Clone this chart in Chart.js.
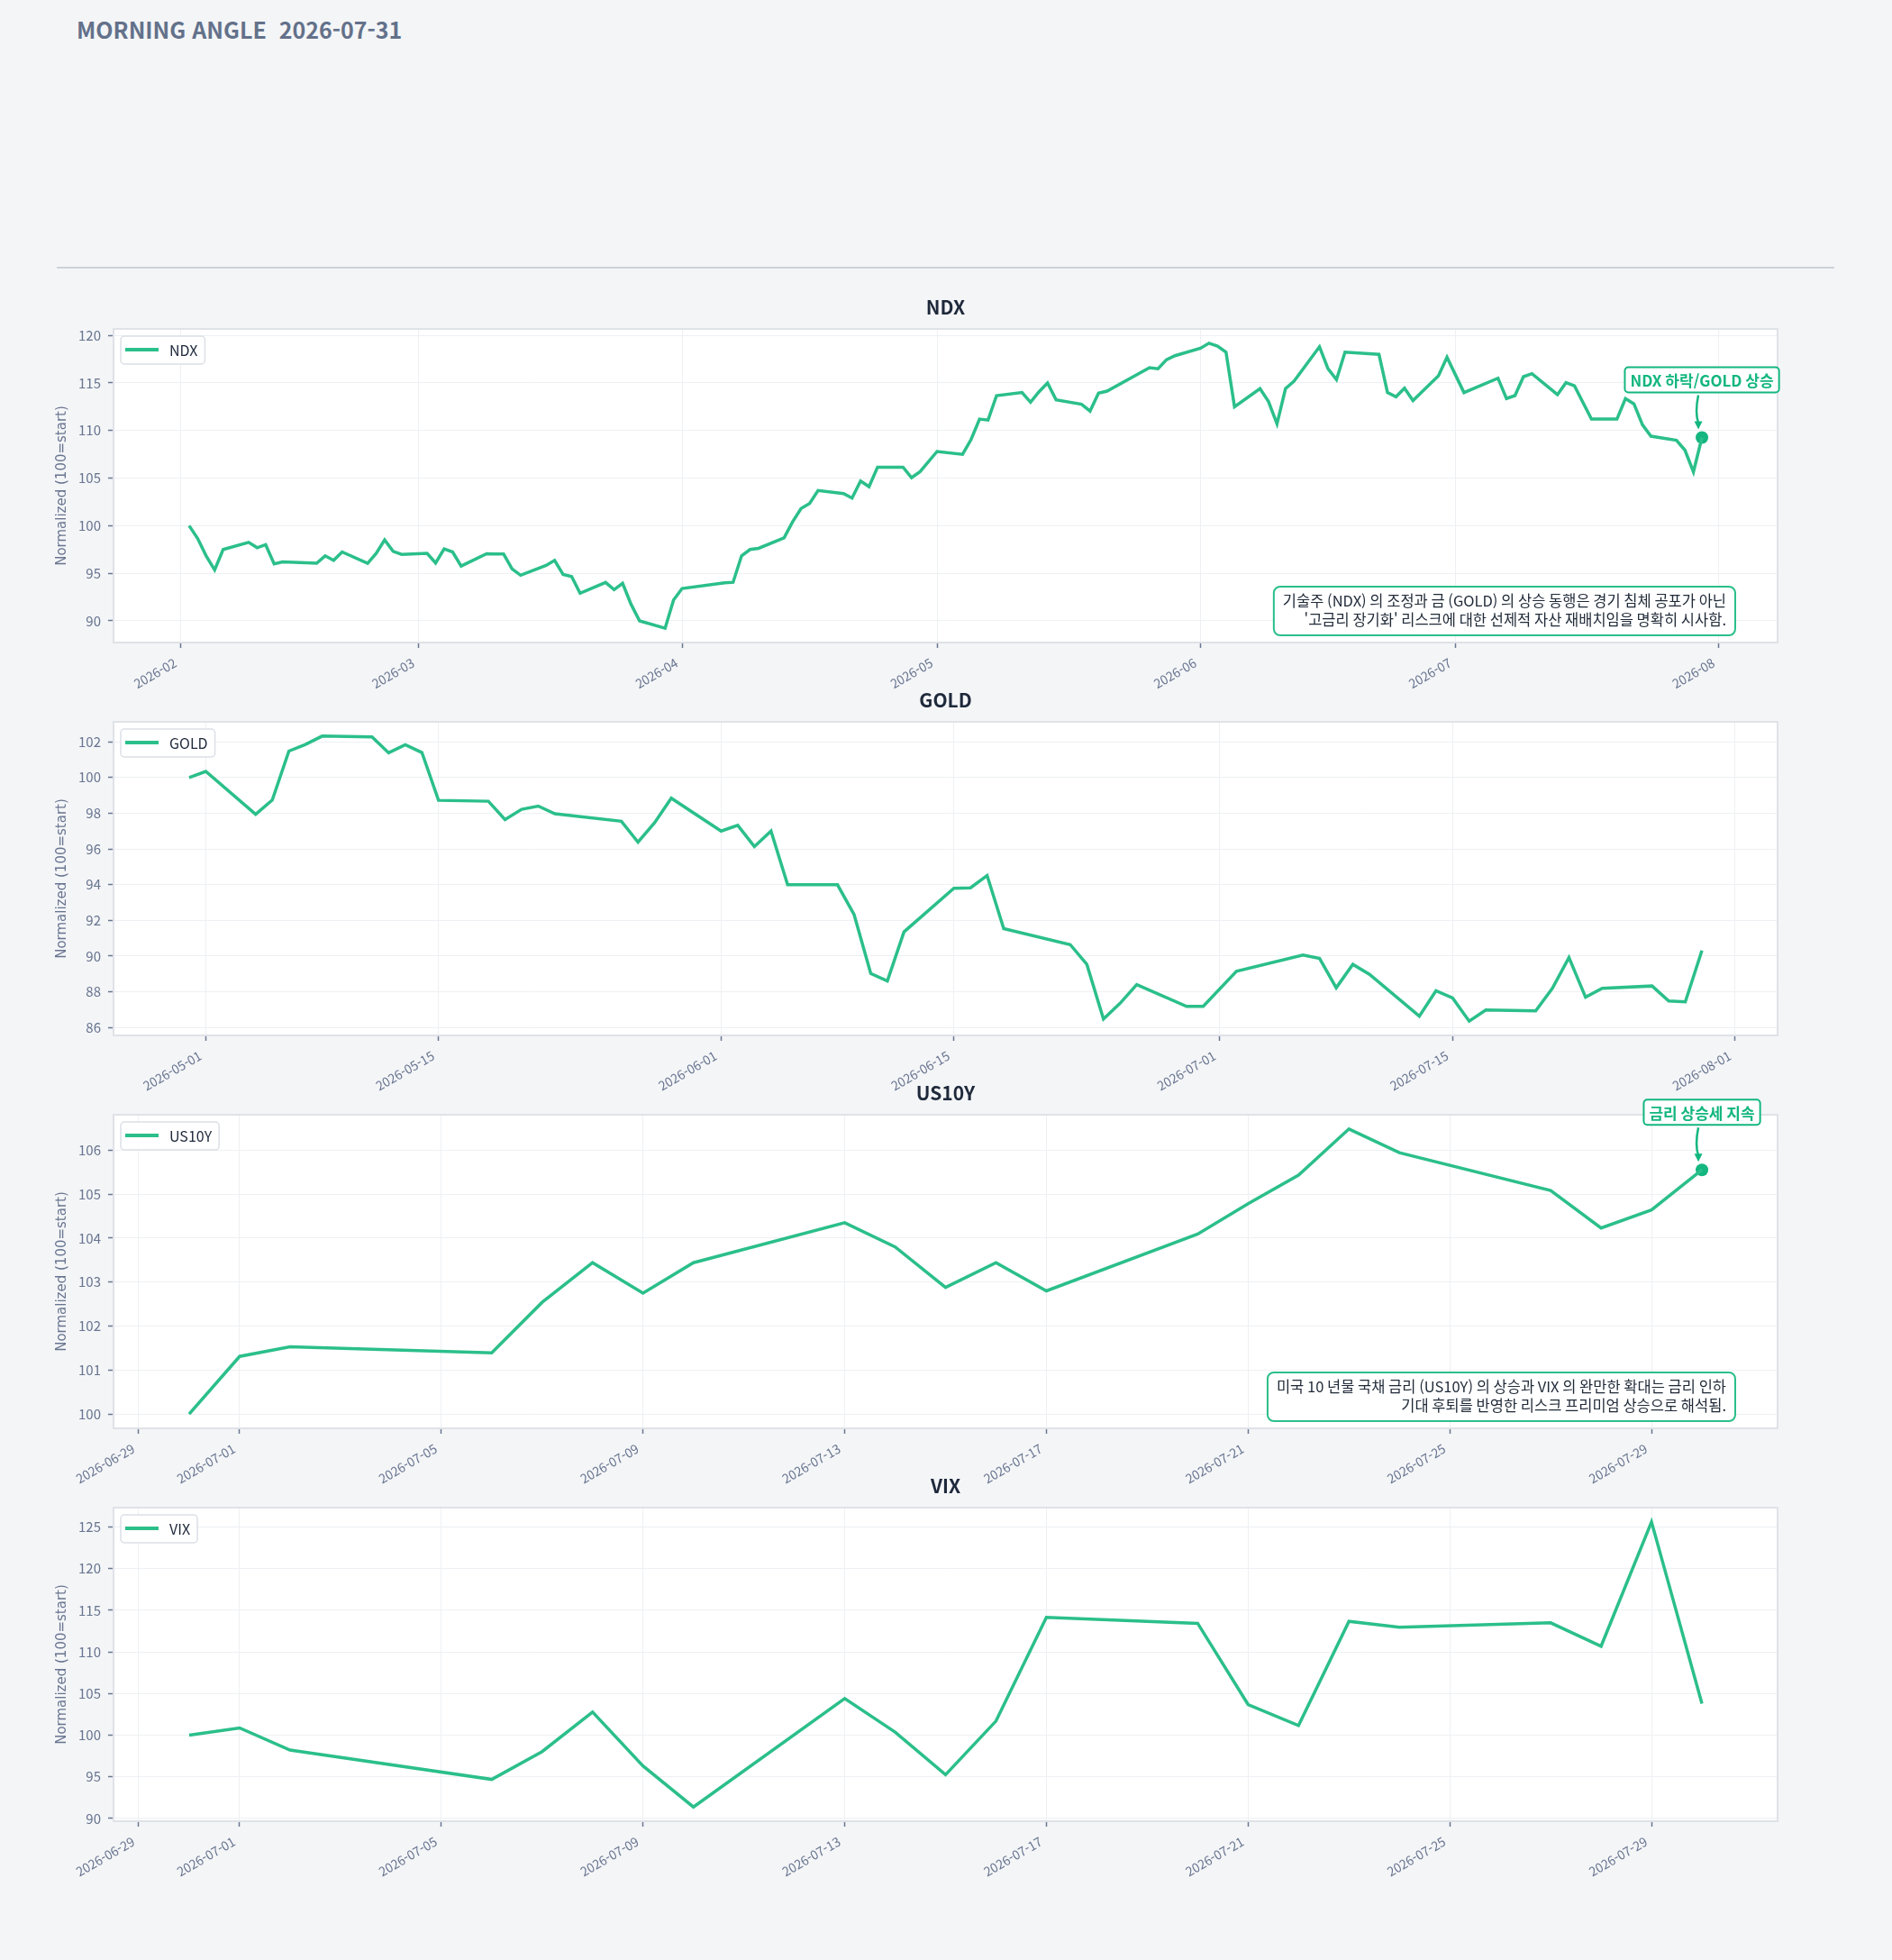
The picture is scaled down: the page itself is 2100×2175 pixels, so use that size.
<!DOCTYPE html>
<html lang="ko">
<head>
<meta charset="UTF-8">
<title>Morning Angle</title>
<script src="https://cdn.jsdelivr.net/npm/chart.js"></script>
<style>
    body {
        margin: 0;
        background: #f4f5f7;
        font-family: "Noto Sans CJK KR", "Noto Sans", sans-serif;
    }
    #page {
        position: relative;
        width: 2100px;
        height: 2175px;
        overflow: hidden;
    }
    #headline {
        position: absolute;
        left: 85px;
        top: 14px;
        font-size: 25px;
        font-weight: 700;
        color: #63718a;
        white-space: pre;
    }
    #rule {
        position: absolute;
        left: 63px;
        top: 296px;
        width: 1973px;
        height: 2px;
        background: #cdd2d9;
    }
    .panel {
        position: absolute;
        left: 0;
        width: 2100px;
        height: 480px;
    }
</style>
</head>
<body>
<div id="page">
    <div id="headline">MORNING ANGLE  2026-07-31</div>
    <div id="rule"></div>
    <div class="panel" style="top:305px"><canvas id="ndxChart" width="2100" height="480"></canvas></div>
    <div class="panel" style="top:741px"><canvas id="goldChart" width="2100" height="480"></canvas></div>
    <div class="panel" style="top:1177px"><canvas id="us10yChart" width="2100" height="480"></canvas></div>
    <div class="panel" style="top:1613px"><canvas id="vixChart" width="2100" height="480"></canvas></div>
</div>

<script>
    const LINE_GREEN = '#2bbf8a';
    const MARK_GREEN = '#13b67f';
    const INK = '#1e293b';
    const MUTED = '#687590';
    const FONT = '"Noto Sans CJK KR", "Noto Sans", sans-serif';

    // ---- data (normalized, 100 = start) ----
    const ndxDates = [
        '2026-02-02','2026-02-03','2026-02-04','2026-02-05','2026-02-06','2026-02-09','2026-02-10','2026-02-11','2026-02-12','2026-02-13',
        '2026-02-17','2026-02-18','2026-02-19','2026-02-20','2026-02-23','2026-02-24','2026-02-25','2026-02-26','2026-02-27',
        '2026-03-02','2026-03-03','2026-03-04','2026-03-05','2026-03-06','2026-03-09','2026-03-10','2026-03-11','2026-03-12','2026-03-13',
        '2026-03-16','2026-03-17','2026-03-18','2026-03-19','2026-03-20','2026-03-23','2026-03-24','2026-03-25','2026-03-26','2026-03-27',
        '2026-03-30','2026-03-31','2026-04-01','2026-04-06','2026-04-07','2026-04-08','2026-04-09','2026-04-10',
        '2026-04-13','2026-04-14','2026-04-15','2026-04-16','2026-04-17','2026-04-20','2026-04-21','2026-04-22','2026-04-23','2026-04-24',
        '2026-04-27','2026-04-28','2026-04-29','2026-05-01','2026-05-04','2026-05-05','2026-05-06','2026-05-07','2026-05-08',
        '2026-05-11','2026-05-12','2026-05-13','2026-05-14','2026-05-15','2026-05-18','2026-05-19','2026-05-20','2026-05-21',
        '2026-05-26','2026-05-27','2026-05-28','2026-05-29','2026-06-01','2026-06-02','2026-06-03','2026-06-04','2026-06-05',
        '2026-06-08','2026-06-09','2026-06-10','2026-06-11','2026-06-12','2026-06-15','2026-06-16','2026-06-17','2026-06-18',
        '2026-06-22','2026-06-23','2026-06-24','2026-06-25','2026-06-26','2026-06-29','2026-06-30','2026-07-02',
        '2026-07-06','2026-07-07','2026-07-08','2026-07-09','2026-07-10','2026-07-13','2026-07-14','2026-07-15','2026-07-17',
        '2026-07-20','2026-07-21','2026-07-22','2026-07-23','2026-07-24','2026-07-27','2026-07-28','2026-07-29','2026-07-30'
    ];
    const ndxValues = [
        100.0, 98.66, 96.83, 95.35, 97.5, 98.25, 97.68, 98.0, 95.98, 96.2,
        96.05, 96.83, 96.36, 97.24, 96.05, 97.08, 98.5, 97.3, 96.99,
        97.1, 96.08, 97.56, 97.24, 95.76, 97.05, 97.02, 97.02, 95.45, 94.79,
        95.83, 96.36, 94.88, 94.66, 92.9, 94.03, 93.28, 93.94, 91.73, 90.0,
        89.22, 92.2, 93.4, 94.0, 94.05, 96.83, 97.5, 97.62,
        98.72, 100.4, 101.8, 102.34, 103.7, 103.38, 102.9, 104.7, 104.1, 106.15,
        106.15, 105.05, 105.68, 107.8, 107.5, 109.05, 111.2, 111.1, 113.67,
        113.99, 112.98, 114.08, 115.0, 113.23, 112.76, 112.04, 113.92, 114.14,
        116.6, 116.5, 117.45, 117.86, 118.65, 119.18, 118.87, 118.24, 112.5,
        114.4, 113.04, 110.7, 114.4, 115.18, 118.8, 116.5, 115.34, 118.24,
        118.0, 113.99, 113.55, 114.46, 113.14, 115.75, 117.7, 113.99,
        115.5, 113.36, 113.67, 115.66, 115.97, 113.77, 115.03, 114.7, 111.2,
        111.2, 113.36, 112.8, 110.6, 109.4, 108.98, 107.94, 105.65, 109.27
    ];

    const goldDates = [
        '2026-04-30','2026-05-01','2026-05-04','2026-05-05','2026-05-06','2026-05-07','2026-05-08',
        '2026-05-11','2026-05-12','2026-05-13','2026-05-14','2026-05-15','2026-05-18','2026-05-19','2026-05-20','2026-05-21','2026-05-22',
        '2026-05-26','2026-05-27','2026-05-28','2026-05-29','2026-06-01','2026-06-02','2026-06-03','2026-06-04','2026-06-05',
        '2026-06-08','2026-06-09','2026-06-10','2026-06-11','2026-06-12','2026-06-15','2026-06-16','2026-06-17','2026-06-18',
        '2026-06-22','2026-06-23','2026-06-24','2026-06-25','2026-06-26','2026-06-29','2026-06-30','2026-07-02',
        '2026-07-06','2026-07-07','2026-07-08','2026-07-09','2026-07-10','2026-07-13','2026-07-14','2026-07-15','2026-07-16','2026-07-17',
        '2026-07-20','2026-07-21','2026-07-22','2026-07-23','2026-07-24','2026-07-27','2026-07-28','2026-07-29','2026-07-30'
    ];
    const goldValues = [
        100.0, 100.34, 97.94, 98.74, 101.48, 101.85, 102.32,
        102.27, 101.38, 101.83, 101.4, 98.72, 98.67, 97.64, 98.22, 98.4, 97.97,
        97.55, 96.38, 97.47, 98.84, 97.0, 97.32, 96.13, 97.0, 93.99,
        93.99, 92.32, 89.02, 88.6, 91.35, 93.79, 93.82, 94.51, 91.53,
        90.64, 89.53, 86.47, 87.35, 88.4, 87.18, 87.18, 89.14,
        90.06, 89.86, 88.22, 89.53, 88.97, 86.63, 88.05, 87.65, 86.35, 86.98,
        86.93, 88.19, 89.91, 87.69, 88.19, 88.32, 87.48, 87.43, 90.31
    ];

    const julyDates = [
        '2026-06-30','2026-07-01','2026-07-02','2026-07-06','2026-07-07','2026-07-08','2026-07-09','2026-07-10',
        '2026-07-13','2026-07-14','2026-07-15','2026-07-16','2026-07-17','2026-07-20','2026-07-21','2026-07-22',
        '2026-07-23','2026-07-24','2026-07-27','2026-07-28','2026-07-29','2026-07-30'
    ];
    const us10yValues = [
        100.0, 101.31, 101.53, 101.39, 102.54, 103.44, 102.75, 103.44,
        104.35, 103.8, 102.88, 103.44, 102.8, 104.09, 104.78, 105.43,
        106.48, 105.94, 105.08, 104.23, 104.64, 105.55
    ];
    const vixValues = [
        100.0, 100.86, 98.2, 94.68, 98.02, 102.77, 96.3, 91.37,
        104.4, 100.36, 95.25, 101.69, 114.14, 113.42, 103.67, 101.15,
        113.67, 112.95, 113.49, 110.68, 125.61, 103.78
    ];

    // ---- axis ticks ----
    const ndxXTicks = ['2026-02-01','2026-03-01','2026-04-01','2026-05-01','2026-06-01','2026-07-01','2026-08-01'];
    const ndxXLabels = ['2026-02','2026-03','2026-04','2026-05','2026-06','2026-07','2026-08'];
    const goldXTicks = ['2026-05-01','2026-05-15','2026-06-01','2026-06-15','2026-07-01','2026-07-15','2026-08-01'];
    const julyXTicks = ['2026-06-29','2026-07-01','2026-07-05','2026-07-09','2026-07-13','2026-07-17','2026-07-21','2026-07-25','2026-07-29'];
    const ndxYTicks = [90, 95, 100, 105, 110, 115, 120];
    const goldYTicks = [86, 88, 90, 92, 94, 96, 98, 100, 102];
    const us10yYTicks = [100, 101, 102, 103, 104, 105, 106];
    const vixYTicks = [90, 95, 100, 105, 110, 115, 120, 125];

    // ---- annotation texts ----
    const ndxCallout = 'NDX 하락/GOLD 상승';
    const us10yCallout = '금리 상승세 지속';
    const ndxNote = [
        '기술주 (NDX) 의 조정과 금 (GOLD) 의 상승 동행은 경기 침체 공포가 아닌',
        "'고금리 장기화' 리스크에 대한 선제적 자산 재배치임을 명확히 시사함."
    ];
    const us10yNote = [
        '미국 10 년물 국채 금리 (US10Y) 의 상승과 VIX 의 완만한 확대는 금리 인하',
        '기대 후퇴를 반영한 리스크 프리미엄 상승으로 해석됨.'
    ];

    function dayNum(s) {
        const p = s.split('-');
        return Date.UTC(+p[0], +p[1] - 1, +p[2]) / 86400000;
    }

    function roundRect(ctx, x, y, w, h, r) {
        ctx.beginPath();
        ctx.moveTo(x + r, y);
        ctx.arcTo(x + w, y, x + w, y + h, r);
        ctx.arcTo(x + w, y + h, x, y + h, r);
        ctx.arcTo(x, y + h, x, y, r);
        ctx.arcTo(x, y, x + w, y, r);
        ctx.closePath();
    }

    // background, frame, title, legend and annotations
    const panelDecor = {
        id: 'panelDecor',
        beforeDraw(chart) {
            const a = chart.chartArea, ctx = chart.ctx;
            ctx.save();
            ctx.fillStyle = '#ffffff';
            ctx.fillRect(a.left, a.top, a.right - a.left, a.bottom - a.top);
            ctx.restore();
        },
        afterDraw(chart, args, opts) {
            const a = chart.chartArea, ctx = chart.ctx;
            ctx.save();

            // frame
            ctx.strokeStyle = '#dfe2e7';
            ctx.lineWidth = 2;
            ctx.strokeRect(a.left, a.top, a.right - a.left, a.bottom - a.top);

            // title
            ctx.fillStyle = INK;
            ctx.font = 'bold 21px ' + FONT;
            ctx.textAlign = 'center';
            ctx.textBaseline = 'middle';
            ctx.fillText(opts.title, (a.left + a.right) / 2, a.top - 24);

            // legend
            const label = chart.data.datasets[0].label;
            ctx.font = '16px ' + FONT;
            const lw = ctx.measureText(label).width;
            const lx = a.left + 8, ly = a.top + 8;
            roundRect(ctx, lx, ly, 5 + 37 + 12 + lw + 8, 31, 4);
            ctx.fillStyle = 'rgba(255,255,255,0.9)';
            ctx.fill();
            ctx.strokeStyle = '#dcdfe5';
            ctx.lineWidth = 1.5;
            ctx.stroke();
            ctx.strokeStyle = LINE_GREEN;
            ctx.lineWidth = 4;
            ctx.beginPath();
            ctx.moveTo(lx + 5, ly + 15);
            ctx.lineTo(lx + 42, ly + 15);
            ctx.stroke();
            ctx.fillStyle = INK;
            ctx.textAlign = 'left';
            ctx.fillText(label, lx + 54, ly + 16);

            // callout on the last point
            if (opts.callout) {
                const p = chart.getDatasetMeta(1).data[0];
                ctx.font = 'bold 17px ' + FONT;
                const tw = ctx.measureText(opts.callout).width;
                const bw = tw + 12, bh = 28;
                const bx = p.x - bw / 2, by = p.y - 78;
                roundRect(ctx, bx, by, bw, bh, 4);
                ctx.fillStyle = '#ffffff';
                ctx.fill();
                ctx.strokeStyle = MARK_GREEN;
                ctx.lineWidth = 2;
                ctx.stroke();
                ctx.fillStyle = MARK_GREEN;
                ctx.textAlign = 'center';
                ctx.fillText(opts.callout, p.x, by + bh / 2 + 1);

                const x0 = p.x - 4, y0 = by + bh + 3, y1 = p.y - 9;
                ctx.beginPath();
                ctx.moveTo(x0, y0);
                ctx.quadraticCurveTo(x0 - 4, (y0 + y1) / 2, x0, y1 - 7);
                ctx.lineWidth = 2.5;
                ctx.stroke();
                ctx.beginPath();
                ctx.moveTo(x0, y1);
                ctx.lineTo(x0 - 4.5, y1 - 9);
                ctx.lineTo(x0 + 4.5, y1 - 9);
                ctx.closePath();
                ctx.fill();
            }

            // explanation box, bottom right
            if (opts.note) {
                ctx.font = '16.5px ' + FONT;
                const tw = Math.max(...opts.note.map(t => ctx.measureText(t).width));
                const right = a.right - 47, bottom = a.bottom - 8;
                const bw = tw + 20, bh = 54;
                roundRect(ctx, right - bw, bottom - bh, bw, bh, 7);
                ctx.fillStyle = '#ffffff';
                ctx.fill();
                ctx.strokeStyle = LINE_GREEN;
                ctx.lineWidth = 2;
                ctx.stroke();
                ctx.fillStyle = '#1f2937';
                ctx.textAlign = 'right';
                opts.note.forEach((t, i) => ctx.fillText(t, right - 10, bottom - bh + 16 + i * 21));
            }
            ctx.restore();
        }
    };

    function makePanel(id, cfg) {
        const xs = cfg.dates.map(dayNum);
        const xSpan = xs[xs.length - 1] - xs[0];
        const yLo = Math.min(...cfg.values), yHi = Math.max(...cfg.values);
        const ySpan = yHi - yLo;
        const points = xs.map((x, i) => ({ x: x, y: cfg.values[i] }));
        const last = points[points.length - 1];

        const datasets = [{
            label: cfg.label,
            data: points,
            borderColor: LINE_GREEN,
            borderWidth: 3.5,
            pointRadius: 0,
            tension: 0,
            fill: false
        }];
        if (cfg.callout) {
            datasets.push({
                label: 'last',
                data: [last],
                showLine: false,
                pointRadius: 7,
                pointBorderWidth: 0,
                pointBackgroundColor: MARK_GREEN
            });
        }

        const gridOpts = {
            color: '#eef0f3',
            lineWidth: 1,
            drawTicks: true,
            tickLength: 6,
            tickColor: '#6b7891',
            tickWidth: 1.5
        };

        new Chart(document.getElementById(id).getContext('2d'), {
            type: 'line',
            data: { datasets: datasets },
            options: {
                responsive: false,
                animation: false,
                layout: { padding: { left: 0, right: 127, top: 60, bottom: 0 } },
                plugins: {
                    legend: { display: false },
                    tooltip: { enabled: false },
                    panelDecor: { title: cfg.label, callout: cfg.callout, note: cfg.note }
                },
                scales: {
                    x: {
                        type: 'linear',
                        min: xs[0] - 0.05 * xSpan,
                        max: xs[xs.length - 1] + 0.05 * xSpan,
                        afterBuildTicks: s => { s.ticks = cfg.xTicks.map(d => ({ value: dayNum(d) })); },
                        afterFit: s => { s.height = 72; },
                        grid: gridOpts,
                        border: { display: false },
                        ticks: {
                            autoSkip: false,
                            minRotation: 30,
                            maxRotation: 30,
                            padding: 8,
                            labelOffset: -6,
                            color: MUTED,
                            font: { family: FONT, size: 14 },
                            callback: (v, i) => cfg.xLabels[i]
                        }
                    },
                    y: {
                        type: 'linear',
                        min: yLo - 0.05 * ySpan,
                        max: yHi + 0.05 * ySpan,
                        afterBuildTicks: s => { s.ticks = cfg.yTicks.map(v => ({ value: v })); },
                        afterFit: s => { s.width = 126; },
                        grid: gridOpts,
                        border: { display: false },
                        title: {
                            display: true,
                            text: 'Normalized (100=start)',
                            color: MUTED,
                            font: { family: 'DejaVu Sans', size: 15 },
                            padding: { top: 60, bottom: 0 }
                        },
                        ticks: {
                            padding: 8,
                            color: MUTED,
                            font: { family: FONT, size: 15 },
                            callback: v => String(v)
                        }
                    }
                }
            },
            plugins: [panelDecor]
        });
    }

    makePanel('ndxChart', {
        label: 'NDX', dates: ndxDates, values: ndxValues,
        xTicks: ndxXTicks, xLabels: ndxXLabels, yTicks: ndxYTicks,
        callout: ndxCallout, note: ndxNote
    });
    makePanel('goldChart', {
        label: 'GOLD', dates: goldDates, values: goldValues,
        xTicks: goldXTicks, xLabels: goldXTicks, yTicks: goldYTicks
    });
    makePanel('us10yChart', {
        label: 'US10Y', dates: julyDates, values: us10yValues,
        xTicks: julyXTicks, xLabels: julyXTicks, yTicks: us10yYTicks,
        callout: us10yCallout, note: us10yNote
    });
    makePanel('vixChart', {
        label: 'VIX', dates: julyDates, values: vixValues,
        xTicks: julyXTicks, xLabels: julyXTicks, yTicks: vixYTicks
    });
</script>
</body>
</html>
